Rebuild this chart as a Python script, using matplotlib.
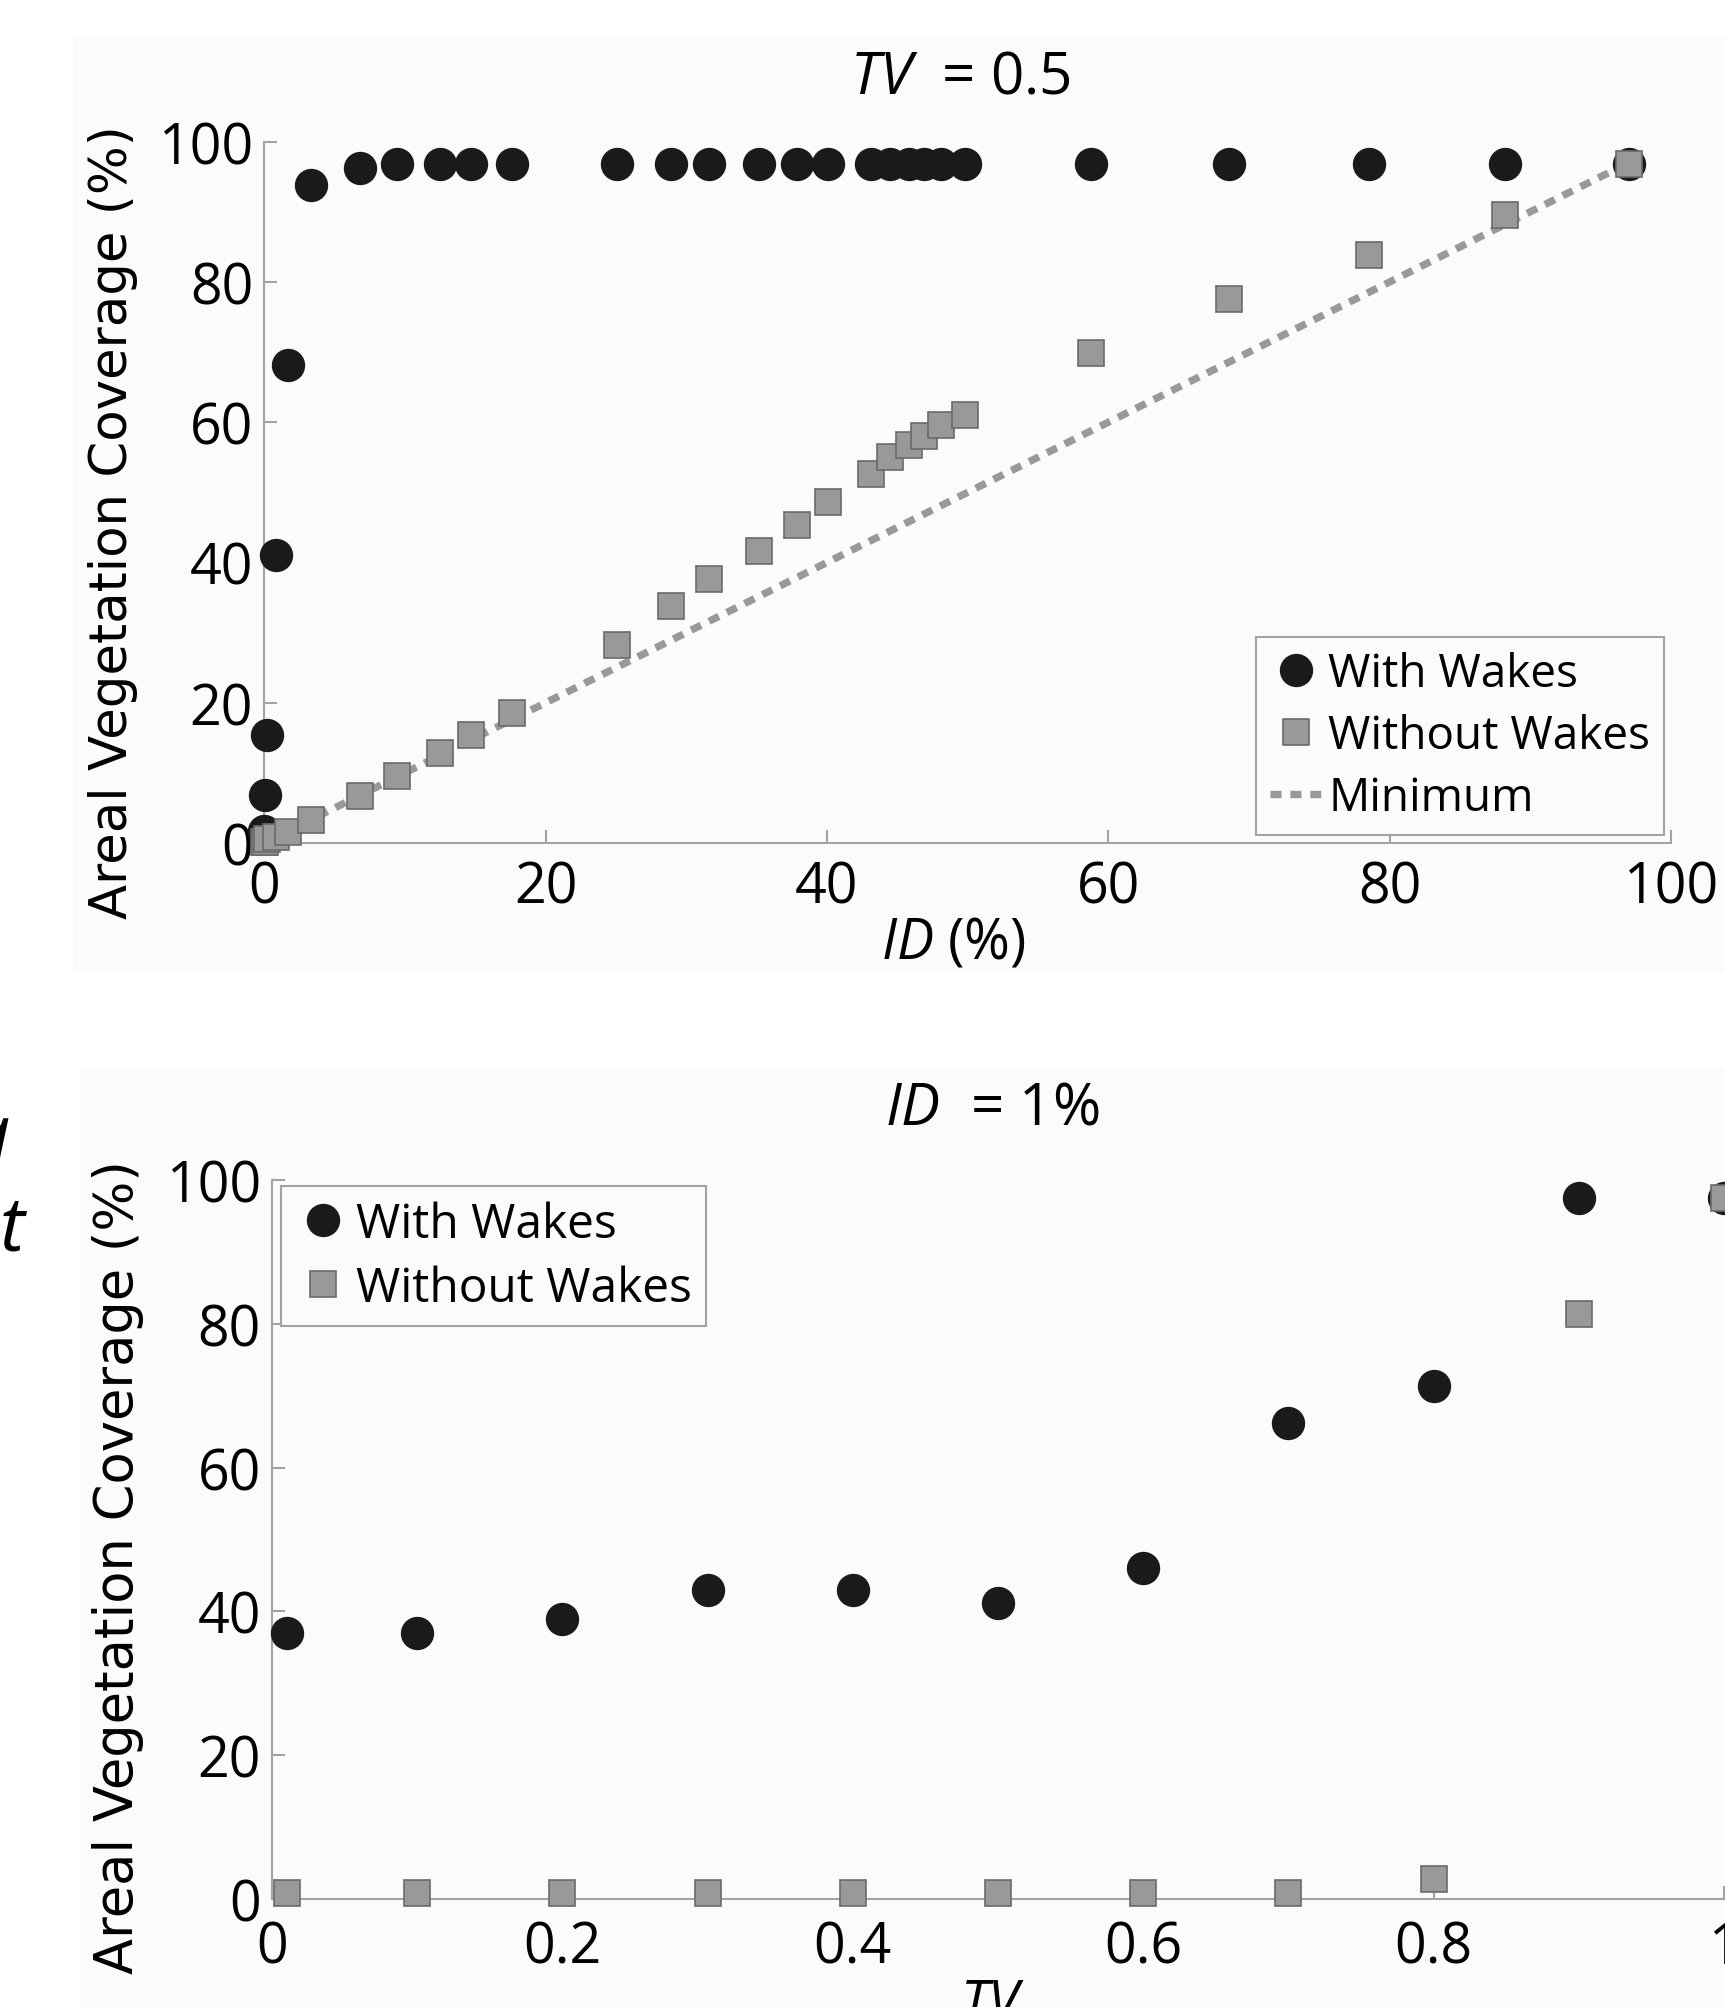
import matplotlib

matplotlib.use('Agg')
import matplotlib.pyplot as plt
from matplotlib.patches import Rectangle

W, H = 1725, 2008

# --- data ---

# top panel: TV = 0.5, coverage against ID
id_pct = [0.0, 0.05, 0.2, 0.8, 1.7, 3.3, 6.8, 9.4, 12.5, 14.7, 17.6, 25.1, 28.9, 31.6,
          35.2, 37.9, 40.1, 43.1, 44.5, 45.8, 46.9, 48.1, 49.8, 58.8, 68.6, 78.5, 88.2, 97.0]
top_with = [1.7, 6.9, 15.4, 41.1, 68.2, 93.8, 96.3, 96.8, 96.8, 96.8, 96.8, 96.8, 96.8, 96.8,
            96.8, 96.8, 96.8, 96.8, 96.8, 96.8, 96.8, 96.8, 96.8, 96.8, 96.8, 96.8, 96.8, 96.8]
top_without = [0.1, 0.2, 0.6, 0.9, 1.5, 3.3, 6.7, 9.5, 12.9, 15.4, 18.6, 28.3, 33.8, 37.6,
               41.6, 45.4, 48.6, 52.6, 55.0, 56.8, 58.1, 59.6, 61.0, 69.9, 77.6, 83.8, 89.5, 96.8]
minimum_x = [0, 97.0]
minimum_y = [0, 97.0]

# bottom panel: ID = 1%, coverage against TV
tv = [0.01, 0.1, 0.2, 0.3, 0.4, 0.5, 0.6, 0.7, 0.8, 0.9, 1.0]
bot_with = [37.0, 37.0, 38.9, 43.0, 43.0, 41.1, 46.0, 66.2, 71.3, 97.5, 97.5]
bot_without = [0.8, 0.8, 0.8, 0.8, 0.8, 0.8, 0.8, 0.8, 2.8, 81.3, 97.5]

top_xticks = [0, 20, 40, 60, 80, 100]
bot_xticks = [0, 0.2, 0.4, 0.6, 0.8, 1.0]
bot_xticklabels = ['0', '0.2', '0.4', '0.6', '0.8', '1']
yticks = [0, 20, 40, 60, 80, 100]

plt.rcParams['font.family'] = ['Open Sans', 'DejaVu Sans']
plt.rcParams['mathtext.fontset'] = 'custom'
plt.rcParams['mathtext.it'] = 'Open Sans:italic'
plt.rcParams['mathtext.rm'] = 'Open Sans'

AXIS_GREY = '#a3a3a3'
PANEL_BG = '#fbfbf9'
DOT = '#1a1a1a'
SQ_FACE = '#999999'
SQ_EDGE = '#6a6a6a'


def px_box(x0, y0, x1, y1):
    """Pixel box (top-left origin) -> figure fraction [left, bottom, width, height]."""
    return [x0 / W, 1 - y1 / H, (x1 - x0) / W, (y1 - y0) / H]


def style_axes(ax, xpad):
    for side in ['top', 'right']:
        ax.spines[side].set_visible(False)
    for side in ['left', 'bottom']:
        ax.spines[side].set_color(AXIS_GREY)
        ax.spines[side].set_linewidth(1.5)
    ax.set_facecolor('none')
    ax.tick_params(direction='in', length=9.5, width=1.5, color=AXIS_GREY,
                   labelcolor='black', labelsize=40)
    ax.tick_params(axis='y', pad=8)
    ax.tick_params(axis='x', pad=xpad)
    ax.set_yticks(yticks)
    ax.set_ylim(0, 100)


def legend_style(ax, handles=None, labels=None, size=33, **kw):
    args = [] if handles is None else [handles, labels]
    leg = ax.legend(*args, borderaxespad=0, fontsize=size, numpoints=1,
                    handlelength=1.15, handletextpad=0.12, labelspacing=0.35,
                    borderpad=0.3, fancybox=False, framealpha=1,
                    edgecolor=AXIS_GREY, facecolor=PANEL_BG, **kw)
    leg.get_frame().set_linewidth(1.5)
    leg.set_zorder(6)
    return leg


fig = plt.figure(figsize=(W / 100, H / 100), dpi=100)
fig.patch.set_facecolor('white')

# off-white panel backgrounds of the scanned figure
for x0, y0, x1, y1 in [(73, 38, W, 973), (80, 1069, W, H)]:
    fig.patches.append(Rectangle((x0 / W, 1 - y1 / H), (x1 - x0) / W, (y1 - y0) / H,
                                 transform=fig.transFigure, facecolor=PANEL_BG,
                                 edgecolor='none', zorder=-10))

# --- top panel ---
ax1 = fig.add_axes(px_box(264.3, 142.7, 1671, 844))
style_axes(ax1, xpad=12)
ax1.set_xlim(0, 100)
ax1.set_xticks(top_xticks)

ax1.plot(minimum_x, minimum_y, color=SQ_FACE, lw=5.3, linestyle=(0, (1.5, 1.2)),
         dash_capstyle='butt', label='Minimum', zorder=2, clip_on=False)
ax1.plot(id_pct, top_with, 'o', color=DOT, markersize=23, label='With Wakes',
         zorder=3, clip_on=False)
ax1.plot(id_pct, top_without, 's', markerfacecolor=SQ_FACE, markeredgecolor=SQ_EDGE,
         markeredgewidth=1.2, markersize=18.5, label='Without Wakes', zorder=4,
         clip_on=False)

h, l = ax1.get_legend_handles_labels()
legend_style(ax1, [h[1], h[2], h[0]], [l[1], l[2], l[0]], size=33, loc='lower right',
             bbox_to_anchor=(0.995, 0.0114))

ax1.text(0.4946, 1.092, r'$\mathit{TV}$  = 0.5', transform=ax1.transAxes,
         ha='center', va='center', fontsize=42)
ax1.set_xlabel(r'$\mathit{ID}$ (%)', fontsize=40)
ax1.xaxis.set_label_coords(0.490, -0.1426)
ax1.xaxis.label.set_va('center')
ax1.set_ylabel('Areal Vegetation Coverage (%)', fontsize=37, family='DejaVu Sans',
               va='center')
ax1.yaxis.set_label_coords(-0.1076, 0.459)

# --- bottom panel (cut off at the right and bottom edge of the scan) ---
ax2 = fig.add_axes(px_box(272, 1181, 1724, 1900))
style_axes(ax2, xpad=15)
ax2.set_xlim(0, 1)
ax2.set_xticks(bot_xticks)
ax2.set_xticklabels(bot_xticklabels)

ax2.plot(tv, bot_with, 'o', color=DOT, markersize=23, label='With Wakes',
         zorder=3, clip_on=False)
ax2.plot(tv, bot_without, 's', markerfacecolor=SQ_FACE, markeredgecolor=SQ_EDGE,
         markeredgewidth=1.2, markersize=18.5, label='Without Wakes', zorder=4,
         clip_on=False)

legend_style(ax2, size=34.5, loc='upper left', bbox_to_anchor=(0.006, 0.992))

ax2.text(0.496, 1.100, r'$\mathit{ID}$  = 1%', transform=ax2.transAxes,
         ha='center', va='center', fontsize=42)
ax2.set_xlabel(r'$\mathit{TV}$', fontsize=40)
ax2.xaxis.set_label_coords(0.496, -0.1085)
ax2.xaxis.label.set_va('top')
ax2.set_ylabel('Areal Vegetation Coverage (%)', fontsize=38, family='DejaVu Sans',
               va='center')
ax2.yaxis.set_label_coords(-0.106, 0.463)

# stray letters from the neighbouring text column
fig.text(10 / W, 1 - 1141 / H, 'a', ha='right', va='center', fontsize=60,
         style='italic')
fig.text(24 / W, 1 - 1231 / H, 't', ha='right', va='center', fontsize=54,
         style='italic')

fig.savefig('out.png', dpi=100, facecolor=fig.get_facecolor())
